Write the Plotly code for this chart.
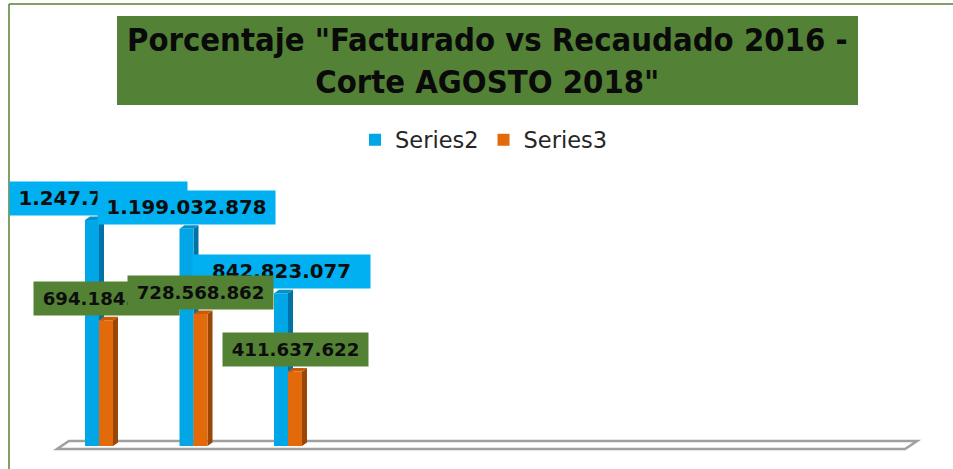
import plotly.graph_objects as go

# ---------------- data ----------------
categories = ["1", "2", "3", "4", "5", "6", "7", "8", "9"]
series2 = [1247700000, 1199032878, 842823077, None, None, None, None, None, None]
series3 = [694184000, 728568862, 411637622, None, None, None, None, None, None]
series_names = ["Series2", "Series3"]
title_text = 'Porcentaje "Facturado vs Recaudado 2016 -<br>Corte AGOSTO 2018"'

# ---------------- styling ----------------
W, H = 953, 469
ML, MR, MT, MB = 20, 20, 170, 14
PW, PH = W - ML - MR, H - MT - MB
CAT0_PX, CAT_PX = 99.0, 94.5          # pixel of first category centre, pixels per category
XMIN = (ML - CAT0_PX) / CAT_PX
XMAX = (W - MR - CAT0_PX) / CAT_PX
YMIN, YMAX = -4.97e7, 1.5238e9
per_px_y = (YMAX - YMIN) / PH
per_px_x = 1.0 / CAT_PX

front_col = ["#00A6E6", "#E36A0A"]
side_col = ["#0072A6", "#9A4706"]
top_col = ["#0092CC", "#C85A06"]
label_bg = ["#00B0F0", "#548235"]
bar_w = 14 * per_px_x
dx = 5 * per_px_x
dy = 3.5 * per_px_y

def fmt(v):
    return f"{v:,}".replace(",", ".")

fig = go.Figure()
shapes = []

# floor (3D base)
fy_front = -3 * per_px_y
fy_back = 5 * per_px_y
fl, fr = -0.445, 8.53
fdx = 12 * per_px_x
shapes.append(dict(
    type="path", xref="x", yref="y", layer="below",
    path=f"M{fl},{fy_front} L{fr},{fy_front} L{fr + fdx},{fy_back} L{fl + fdx},{fy_back} Z",
    line=dict(color="#A0A0A0", width=2.5), fillcolor="white"))

xs = list(range(len(categories)))
all_series = [series2, series3]
offsets = [-bar_w / 2, bar_w / 2]

for s, vals in enumerate(all_series):
    xpos = [x + offsets[s] for x in xs]
    fig.add_trace(go.Bar(
        x=xpos, y=vals, width=bar_w, name=series_names[s],
        marker=dict(color=front_col[s], line=dict(width=0)),
        hoverinfo="skip"))
    for xc, v in zip(xpos, vals):
        if v is None:
            continue
        xl, xr = xc - bar_w / 2, xc + bar_w / 2
        shapes.append(dict(
            type="path", xref="x", yref="y", layer="below",
            path=f"M{xr},0 L{xr + dx},{dy} L{xr + dx},{v + dy} L{xr},{v} Z",
            line=dict(width=0), fillcolor=side_col[s]))
        shapes.append(dict(
            type="path", xref="x", yref="y", layer="below",
            path=f"M{xl},{v} L{xl + dx},{v + dy} L{xr + dx},{v + dy} L{xr},{v} Z",
            line=dict(width=0), fillcolor=top_col[s]))

# data labels
annotations = []
label_font_size = [19.8, 18.2]
label_width = [171, 139]
label_xshift = [[6, 0, 0], [0, 0, 0]]
for s, vals in enumerate(all_series):
    for i, v in enumerate(vals):
        if v is None:
            continue
        annotations.append(dict(
            x=xs[i] + offsets[s], y=v, xref="x", yref="y",
            text=f"<b>{fmt(v)}</b>", showarrow=False,
            xanchor="center", yanchor="bottom", yshift=4,
            xshift=label_xshift[s][i] if i < 3 else 0,
            font=dict(family="DejaVu Sans", size=label_font_size[s], color="#0D0D0D"),
            bgcolor=label_bg[s], borderpad=3, width=label_width[s], height=27))

# title box
def px_x(p):
    return (p - ML) / PW

def px_y(p):
    return 1 + (MT - p) / PH

shapes.append(dict(type="rect", xref="paper", yref="paper", layer="above",
                   x0=px_x(117), x1=px_x(858), y0=px_y(105), y1=px_y(16),
                   line=dict(width=0), fillcolor="#538135"))
annotations.append(dict(
    x=px_x(487.5), y=px_y(61), xref="paper", yref="paper",
    text=f"<b>{title_text}</b>", showarrow=False,
    xanchor="center", yanchor="middle",
    font=dict(family="DejaVu Sans Condensed", size=32.5, color="#0A0A0A")))

# frame lines
shapes.append(dict(type="line", xref="paper", yref="paper", layer="above",
                   x0=px_x(9), x1=px_x(953), y0=px_y(4), y1=px_y(4),
                   line=dict(color="#548235", width=1.5)))
shapes.append(dict(type="line", xref="paper", yref="paper", layer="above",
                   x0=px_x(9), x1=px_x(9), y0=px_y(4), y1=px_y(469),
                   line=dict(color="#548235", width=1.5)))

fig.update_layout(
    width=W, height=H,
    margin=dict(l=ML, r=MR, t=MT, b=MB),
    paper_bgcolor="white", plot_bgcolor="white",
    barmode="overlay",
    showlegend=True,
    legend=dict(orientation="h", x=px_x(484), xanchor="center",
                y=px_y(140), yanchor="middle",
                font=dict(family="DejaVu Sans", size=22.5, color="#262626"),
                itemwidth=30, traceorder="normal"),
    xaxis=dict(range=[XMIN, XMAX], visible=False, fixedrange=True),
    yaxis=dict(range=[YMIN, YMAX], visible=False, fixedrange=True),
    shapes=shapes, annotations=annotations,
)

fig.write_html("out.html", config={"displayModeBar": False},
               post_script="document.body.style.margin='0';document.body.style.overflow='hidden';")
